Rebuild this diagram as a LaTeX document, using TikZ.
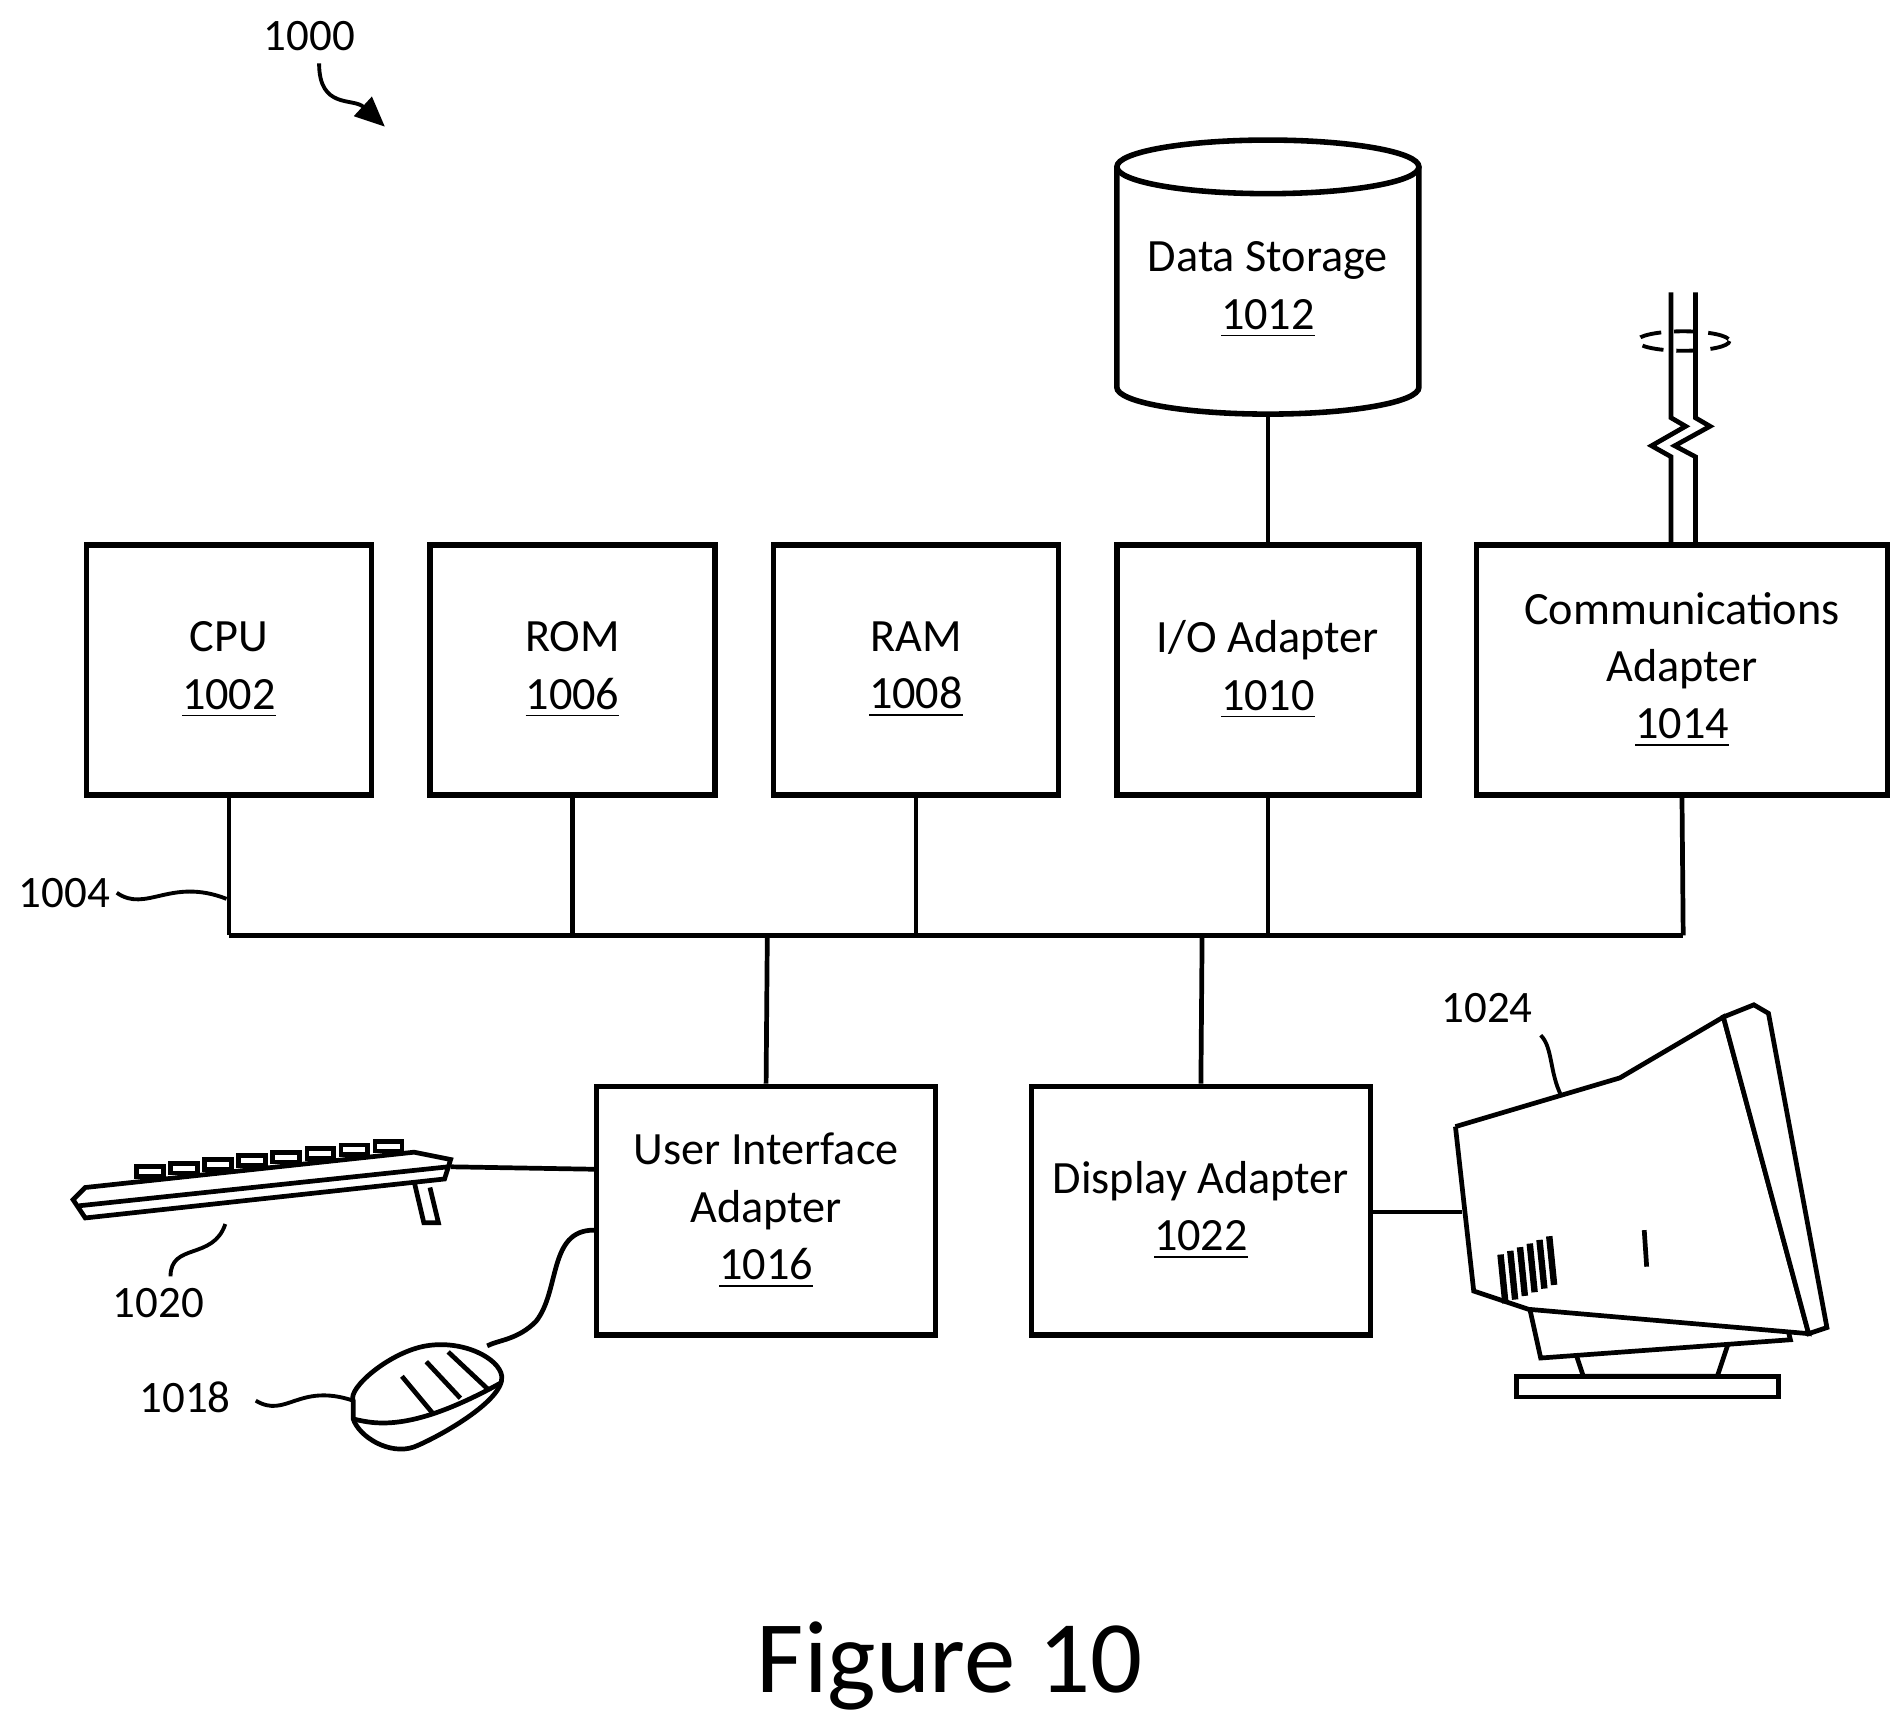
\documentclass[tikz,border=0pt]{standalone}
\usepackage{fontspec}
\setmainfont{Carlito}
\usetikzlibrary{arrows.meta}
\begin{document}
\begin{tikzpicture}[x=0.01cm,y=-0.01cm,line width=1.1pt,
  box/.style={draw,line width=1.3pt,align=center,font=\fontsize{10.8}{13.4}\selectfont,inner sep=0},
  lbl/.style={font=\fontsize{10.5}{13.4}\selectfont,inner sep=1pt},
  sq/.style={line width=0.9pt}]
\useasboundingbox (0,0) rectangle (1560,1415);
% boxes
\node[box,minimum width=2.34cm,minimum height=2.05cm] (cpu) at (188,550) {CPU\\\underline{1002}};
\node[box,minimum width=2.34cm,minimum height=2.05cm] (rom) at (470,550) {ROM\\\underline{1006}};
\node[box,minimum width=2.34cm,minimum height=2.05cm] (ram) at (752,550) {RAM\\\underline{1008}};
\node[box,minimum width=2.48cm,minimum height=2.05cm] (io) at (1041,550) {I/O Adapter\\\underline{1010}};
\node[box,minimum width=3.37cm,minimum height=2.05cm] (comm) at (1381,550) {Communications\\Adapter\\\underline{1014}};
\node[box,minimum width=2.78cm,minimum height=2.04cm] (ui) at (629,994) {User Interface\\Adapter\\\underline{1016}};
\node[box,minimum width=2.78cm,minimum height=2.04cm] (disp) at (986,994) {Display Adapter\\\underline{1022}};
% cylinder
\draw[line width=1.3pt,fill=white] (917,137) -- (917,318) arc[start angle=180,end angle=360,x radius=124,y radius=-22] -- (1165,137);
\draw[line width=1.3pt] (1041,137) ellipse[x radius=124,y radius=22];
\node[box,draw=none] (ds) at (1041,238) {Data Storage\\\underline{1012}};
\coordinate (dsb) at (1041,340);
% bus
\coordinate (b1) at (188,768); \coordinate (b2) at (1382,768);
\draw (b1) -- (b2);
\draw (cpu.south) -- (b1);
\draw (rom.south) -- (470,768);
\draw (ram.south) -- (752,768);
\draw (io.south) -- (1041,768);
\draw (comm.south) -- (b2);
\draw (630,768) -- (ui.north);
\draw (987,768) -- (disp.north);
\draw (dsb) -- (io.north);
% antenna
\draw (1372,448) -- (1372,375) -- (1356,366) -- (1384,350) -- (1372,343) -- (1372,240);
\draw (1392,448) -- (1392,375) -- (1375,366) -- (1404,350) -- (1392,343) -- (1392,240);
\draw[dashed,line width=0.9pt,dash pattern=on 5pt off 3pt] (1382,280) ellipse[x radius=38,y radius=8];
% display connection
\coordinate (mon) at (1200,995);
\draw (disp.east |- mon) -- (mon);
% monitor
\begin{scope}[line width=1.1pt]
\draw[fill=white] (1245,1130) rectangle (1460,1147);
\draw[fill=white] (1290,1100) -- (1300,1130) -- (1410,1130) -- (1420,1100);
\draw[fill=white] (1255,1070) -- (1265,1115) -- (1470,1100) -- (1460,1060) -- cycle;
\draw[fill=white] (1195,925) -- (1330,885) -- (1415,835) -- (1485,1095) -- (1255,1075) -- (1210,1060) -- (1195,925);
\draw[fill=white] (1415,835) -- (1440,825) -- (1452,832) -- (1500,1090) -- (1485,1095) -- cycle;
\foreach \i in {0,...,5} \draw[line width=1.5pt] (1232+\i*8,1030-\i*3) -- (1236+\i*8,1070-\i*3);
\draw (1350,1010) -- (1352,1040);
\end{scope}
% keyboard
\begin{scope}
\draw[fill=white] (60,985) -- (70,1000) -- (365,968) -- (370,952) -- (340,946) -- (70,975) -- cycle;
\draw (65,990) -- (368,958);
\foreach \i in {0,...,7} \draw[fill=white] (112+\i*28,966-\i*3) rectangle +(22,-8);
\draw (340,970) -- (348,1004) -- (360,1004) -- (353,975);
\end{scope}
\coordinate (kb) at (370,958);
\draw (ui.west |- 0,960) -- (kb);
% mouse
\begin{scope}
\draw[fill=white] (290,1150) .. controls (285,1140) and (320,1110) .. (350,1105) .. controls (380,1100) and (410,1115) .. (412,1130) .. controls (414,1150) and (360,1180) .. (340,1188) .. controls (320,1195) and (295,1180) .. (290,1165) -- cycle;
\draw (290,1165) .. controls (310,1170) and (340,1175) .. (412,1135);
\draw (330,1130) -- (355,1160); \draw (350,1118) -- (378,1148); \draw (368,1110) -- (400,1140);
\end{scope}
\coordinate (ms) at (400,1105);
\draw (ui.west |- 0,1010) .. controls (450,1010) and (460,1060) .. (440,1085) .. controls (425,1100) and (410,1100) .. (ms);
% reference labels
\node[lbl] (l1000) at (254,30) {1000};
\draw[sq,-{Triangle[length=7pt,width=6pt]}] (262,52) .. controls (262,90) and (290,80) .. (316,104);
\node[lbl] (l1004) at (53,733) {1004};
\draw[sq] (l1004.east) .. controls (120,750) and (140,720) .. (186,738);
\node[lbl] (l1020) at (130,1070) {1020};
\draw[sq] (140,1048) .. controls (140,1020) and (175,1035) .. (185,1005);
\node[lbl] (l1018) at (152,1147) {1018};
\draw[sq] (210,1150) .. controls (235,1165) and (245,1135) .. (290,1150);
\node[lbl] (l1024) at (1221,828) {1024};
\draw[sq] (1265,850) .. controls (1275,860) and (1272,880) .. (1282,900);
% caption
\node[font=\fontsize{24}{28}\selectfont] (fig) at (780,1368) {Figure 10};
\end{tikzpicture}
\end{document}
